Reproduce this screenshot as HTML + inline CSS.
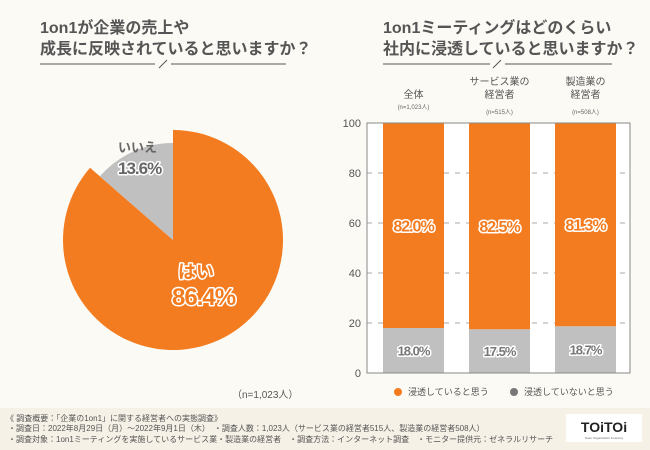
<!DOCTYPE html>
<html><head><meta charset="utf-8">
<style>
html,body{margin:0;padding:0;background:#fcfaf5;}
svg{display:block;font-family:"Liberation Sans","Noto Sans CJK JP",sans-serif;}
</style></head>
<body>
<svg id="c" width="650" height="450" viewBox="0 0 650 450">
<rect x="0" y="0" width="650" height="450" fill="#fcfaf5"/>
<rect x="0" y="408" width="650" height="42" fill="#f6f1e7"/>
<g fill="#555" font-weight="bold" font-size="16">
<text x="40" y="33">1on1が企業の売上や</text>
<text x="40" y="54">成長に反映されていると思いますか？</text>
</g>
<g stroke="#555" stroke-width="1">
<line x1="40" y1="64" x2="155" y2="64"/><line x1="159" y1="68" x2="167" y2="60"/><line x1="171" y1="64" x2="286" y2="64"/>
</g>
<g fill="#555" font-weight="bold" font-size="16">
<text x="383" y="33">1on1ミーティングはどのくらい</text>
<text x="383" y="54">社内に浸透していると思いますか？</text>
</g>
<g stroke="#555" stroke-width="1">
<line x1="383" y1="64" x2="490" y2="64"/><line x1="493" y1="68" x2="501" y2="60"/><line x1="505" y1="64" x2="612" y2="64"/>
</g>
<g id="pie"></g>
<text x="232" y="398" font-size="10" fill="#555">（n=1,023人）</text>
<g id="bars"></g>
<g font-size="9" fill="#555">
<circle cx="398" cy="392" r="4" fill="#f47c20"/>
<text x="408" y="395">浸透していると思う</text>
<circle cx="514" cy="392" r="4" fill="#777"/>
<text x="524" y="395">浸透していないと思う</text>
</g>
<g font-size="8" fill="#555">
<text x="6" y="421">《 調査概要：「企業の1on1」に関する経営者への実態調査》</text>
<text x="8" y="431">・調査日：2022年8月29日（月）～2022年9月1日（木）　・調査人数：1,023人（サービス業の経営者515人、製造業の経営者508人）</text>
<text x="8" y="442">・調査対象：1on1ミーティングを実施しているサービス業・製造業の経営者　・調査方法：インターネット調査　・モニター提供元：ゼネラルリサーチ</text>
</g>
<rect x="566" y="414" width="76" height="28" fill="#fff"/>
<text x="604" y="432" text-anchor="middle" font-size="14" font-weight="bold" fill="#222">TOiTOi</text>
<text x="604" y="439" text-anchor="middle" font-size="3" fill="#666">Team Organization Inventory</text>
</svg>
<script>
const pieLabels = ["はい","いいえ"];
const pieValues = [86.4, 13.6];
const barCategories = [["全体"],["サービス業の","経営者"],["製造業の","経営者"]];
const barSamples = ["(n=1,023人)","(n=515人)","(n=508人)"];
const yesValues = [82.0, 82.5, 81.3];
const noValues = [18.0, 17.5, 18.7];
const yTicks = [0,20,40,60,80,100];

const NS="http://www.w3.org/2000/svg";
function mk(tag, attrs, parent, txt){const e=document.createElementNS(NS,tag);for(const k in attrs)e.setAttribute(k,attrs[k]);if(txt!==undefined)e.textContent=txt;parent.appendChild(e);return e;}

// Pie
const pie=document.getElementById('pie');
const cx=173, cy=240, rBig=110, rSmall=97;
const total=pieValues.reduce((a,b)=>a+b,0);
function pt(r,frac){const a=-Math.PI/2+frac*2*Math.PI;return [cx+r*Math.cos(a),cy+r*Math.sin(a)];}
// yes: clockwise from top, spanning yes share
let start=0;
const fracYes=pieValues[0]/total;
{ const p0=pt(rBig,0), p1=pt(rBig,fracYes);
  const s=mk('path',{d:`M${cx},${cy}L${p0[0]},${p0[1]}A${rBig},${rBig} 0 ${fracYes>0.5?1:0} 1 ${p1[0]},${p1[1]}Z`,fill:'#f47c20'},pie);
  
   }
{ const f=pieValues[1]/total; const p0=pt(rSmall,fracYes), p1=pt(rSmall,1);
  const s=mk('path',{d:`M${cx},${cy}L${p0[0]},${p0[1]}A${rSmall},${rSmall} 0 ${f>0.5?1:0} 1 ${p1[0]},${p1[1]}Z`,fill:'#c0c0c0'},pie);
  
   }
const outline={stroke:'#fff','stroke-width':3,'paint-order':'stroke','stroke-linejoin':'round','font-weight':'bold'};
{ const t=mk('text',Object.assign({x:178,y:278,'font-size':18,fill:'#f47c20'},outline),pie,pieLabels[0]);
  
  
  const v=mk('text',Object.assign({x:172,y:305,'font-size':24,fill:'#f47c20','letter-spacing':'-1'},outline),pie,pieValues[0].toFixed(1)+'%');
  
   }
{ const t=mk('text',{x:118,y:152,'font-size':13,fill:'#666','font-weight':'bold'},pie,pieLabels[1]);
  
  
  const v=mk('text',Object.assign({x:118,y:174,'font-size':17,fill:'#666','letter-spacing':'-1'},outline),pie,pieValues[1].toFixed(1)+'%');
  
   }

// Bars
const g=document.getElementById('bars');
const x0=367,x1=630,yTop=123,yBot=373;
const y=v=>yBot-(v/100)*(yBot-yTop);
const slot=(x1-x0)/barCategories.length, bw=61;
const bx=i=>x0+16+i*slot + (i*(slot-87.7))*0; 
mk('rect',{x:x0,y:yTop,width:x1-x0,height:yBot-yTop,fill:'#fff'},g);
yTicks.forEach(t=>{
  if(t>0&&t<100){const l=mk('line',{x1:x0,x2:x1,y1:y(t),y2:y(t),stroke:'#aaa','stroke-dasharray':'5,6'},g);
    
    }
  const tx=mk('text',{x:x0-6,y:y(t)+4,'text-anchor':'end','font-size':11,fill:'#555'},g,String(t));
  
  
});
barCategories.forEach((cat,i)=>{
  const left=x0+16+i*86;
  const cxb=left+bw/2;
  const rn=mk('rect',{x:left,y:y(noValues[i]),width:bw,height:yBot-y(noValues[i]),fill:'#c0c0c0'},g);
  
  
  const ry=mk('rect',{x:left,y:y(noValues[i]+yesValues[i]),width:bw,height:y(noValues[i])-y(noValues[i]+yesValues[i]),fill:'#f47c20'},g);
  
  
  const vy=mk('text',Object.assign({x:cxb,y:y(noValues[i]+yesValues[i]/2)+6,'text-anchor':'middle','font-size':16,fill:'#f47c20','letter-spacing':'-1'},outline),g,yesValues[i].toFixed(1)+'%');
  
  
  const vn=mk('text',Object.assign({x:cxb,y:y(noValues[i]/2)+5,'text-anchor':'middle','font-size':13,fill:'#777','letter-spacing':'-1'},outline),g,noValues[i].toFixed(1)+'%');
  
  
  const n=cat.length;
  cat.forEach((line,j)=>{
    const ct=mk('text',{x:cxb,y:yTop-(n===1?25:38)+j*13+ (n===1?0:0),'text-anchor':'middle','font-size':10,fill:'#555'},g,line);
    
    
  });
  const st=mk('text',{x:cxb,y:yTop-(n===1?14:9),'text-anchor':'middle','font-size':6,fill:'#666'},g,barSamples[i]);
  
  
});
mk('rect',{x:x0,y:yTop,width:x1-x0,height:yBot-yTop,fill:'none',stroke:'#888','stroke-width':1},g);
</script>
</body></html>
